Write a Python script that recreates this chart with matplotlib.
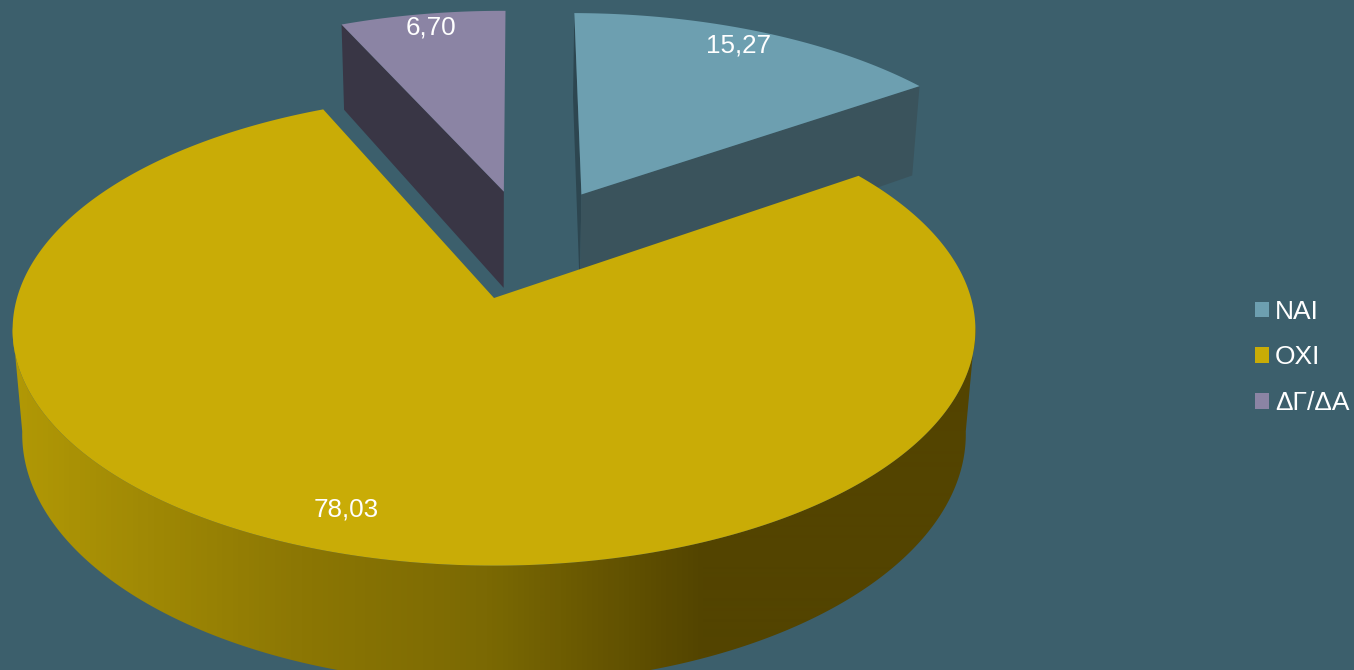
import numpy as np
import matplotlib
matplotlib.use("Agg")
import matplotlib.pyplot as plt
from matplotlib.colors import LinearSegmentedColormap
from matplotlib.patches import Patch, Polygon

plt.rcParams["font.family"] = ["Liberation Sans", "DejaVu Sans"]

labels = ["ΝΑΙ", "ΟΧΙ", "ΔΓ/ΔΑ"]
values = [15.27, 78.03, 6.70]

BG = "#3c5f6c"
TOP_COLORS = ["#6d9fb0", "#c9ac06", "#8b84a4"]
EDGE_NAI = "#3a535c"
EDGE_NAI_DARK = "#2d4650"
EDGE_DG = "#393645"

# offsets of the pulled out slices, in pie radius units
OFFSETS = [(0.195, 0.476), (0.0, 0.0), (0.022, 0.49)]
LABEL_XY = [(738, 46), (346, 510), (431, 28)]

# simple perspective camera, all in pixels
CX, CY = 494, 298
SX, SY = 477, 231.5
DEPTH = 105
PERSP_V = 0.135
PERSP_H = 0.02
FIRST_ANGLE = 0.4


def project(u, v, h=0.0):
    w = 1 + PERSP_V * v + PERSP_H * h
    return CX + SX * u / w, CY - (SY * v - DEPTH * (1 - 0.05 * v) * h) / w


def rim(a0, a1, off, h=0.0, n=240):
    t = np.radians(np.linspace(a0, a1, n))
    x, y = project(off[0] + np.cos(t), off[1] + np.sin(t), h)
    return np.column_stack([x, y])


def edge_face(angle, off):
    t = np.radians(angle)
    u, v = off[0] + np.cos(t), off[1] + np.sin(t)
    return [project(off[0], off[1]), project(u, v),
            project(u, v, 1), project(off[0], off[1], 1)]


fig = plt.figure(figsize=(13.54, 6.7), dpi=100, facecolor=BG)
ax = fig.add_axes([0, 0, 1, 1])
ax.set_xlim(0, 1354)
ax.set_ylim(670, 0)
ax.axis("off")

# slice angles, clockwise from the top
stops = 90 - FIRST_ANGLE - np.cumsum([0] + values) * 3.6

# NAI
ax.add_patch(Polygon(edge_face(stops[0], OFFSETS[0]), fc=EDGE_NAI_DARK, ec="none"))
ax.add_patch(Polygon(edge_face(stops[1], OFFSETS[0]), fc=EDGE_NAI, ec="none"))
pts = np.vstack([[project(*OFFSETS[0])], rim(stops[0], stops[1], OFFSETS[0])])
ax.add_patch(Polygon(pts, fc=TOP_COLORS[0], ec="none"))

# DG/DA
ax.add_patch(Polygon(edge_face(stops[2] + 360, OFFSETS[2]), fc=EDGE_DG, ec="none"))
pts = np.vstack([[project(*OFFSETS[2])], rim(stops[2], stops[3], OFFSETS[2])])
ax.add_patch(Polygon(pts, fc=TOP_COLORS[2], ec="none"))

# OXI side wall with the left to right shading
wall = np.vstack([rim(-7, -173, OFFSETS[1]), rim(-173, -7, OFFSETS[1], 1)])
wall_patch = Polygon(wall, fc="none", ec="none")
ax.add_patch(wall_patch)
shade = LinearSegmentedColormap.from_list("wall", [
    (0.0, "#b39a06"), (0.22, "#8c7704"), (0.36, "#7b6903"),
    (0.52, "#534400"), (1.0, "#534400")])
img = ax.imshow(np.linspace(0, 1, 1354)[None, :], cmap=shade, extent=(0, 1354, 670, 0),
                aspect="auto", interpolation="bilinear", zorder=1.5)
wall_patch.set_zorder(1.5)
img.set_clip_path(wall_patch)

pts = np.vstack([[project(*OFFSETS[1])], rim(stops[1], stops[2], OFFSETS[1], n=600)])
ax.add_patch(Polygon(pts, fc=TOP_COLORS[1], ec="none", zorder=2))

for val, (x, y) in zip(values, LABEL_XY):
    ax.text(x, y, f"{val:.2f}".replace(".", ","), color="white", fontsize=18.7,
            ha="center", va="center", zorder=3)

handles = [Patch(fc=c, ec="none") for c in TOP_COLORS]
leg = ax.legend(handles, labels, loc="center left", bbox_to_anchor=(1255, 357.5),
                bbox_transform=ax.transData, frameon=False, fontsize=19,
                handlelength=0.53, handleheight=0.53, handletextpad=0.22,
                labelspacing=0.82, borderpad=0, borderaxespad=0, labelcolor="white")
leg.set_zorder(3)

fig.savefig("out.png", dpi=100, facecolor=BG)
